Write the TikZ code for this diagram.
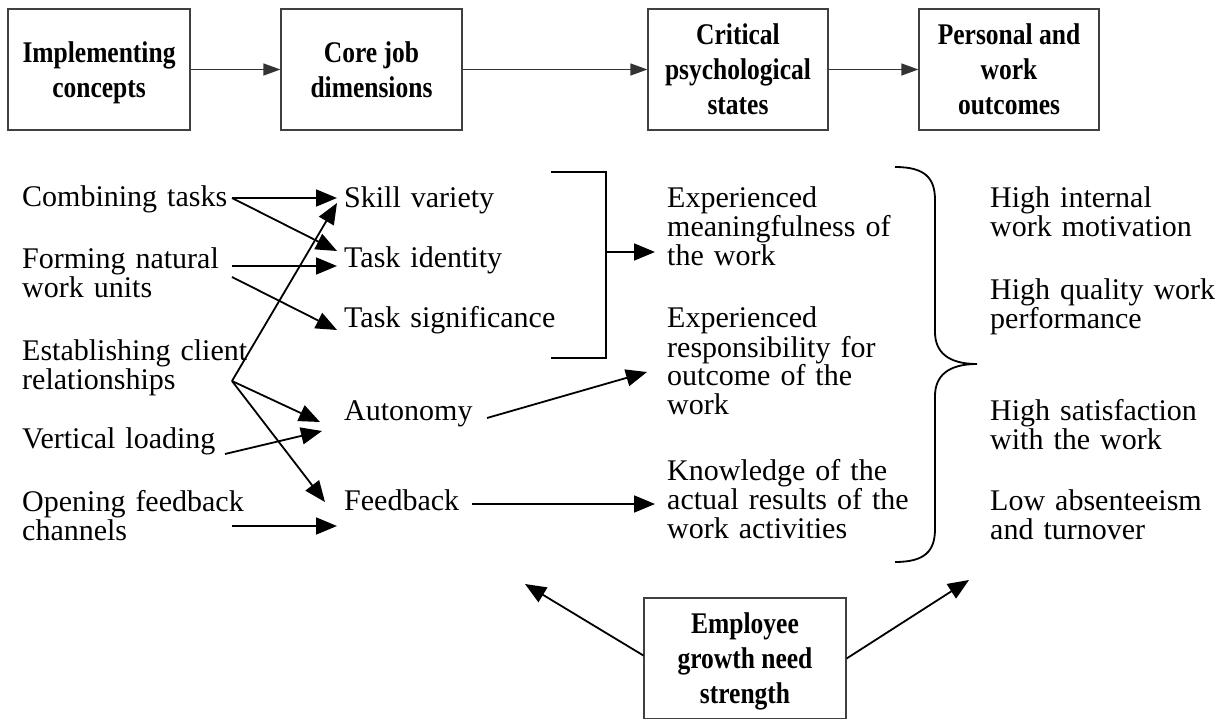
\documentclass[tikz,border=0pt]{standalone}
\usepackage{fontspec}
\setmainfont{Liberation Serif}
\newfontfamily\boxfont[FakeStretch=0.85]{Liberation Serif Bold}
\usetikzlibrary{arrows.meta}
\begin{document}
\begin{tikzpicture}[x=1pt,y=-1pt,
  stage/.style={draw=black!75, line width=1.2pt, minimum width=#1,
    minimum height=121pt, inner sep=0pt, align=center, text depth=0pt,
    font=\boxfont\fontsize{30}{35}\selectfont},
  lbl/.style={anchor=base west, inner sep=0pt, text width=250pt,
    align=left, font=\fontsize{30}{29}\selectfont},
  link/.style={-{Triangle[length=21pt,width=17pt]}, line width=1.8pt},
  flow/.style={draw=black!80, -{Triangle[length=17pt,width=12pt]}, line width=1.3pt},
  frame/.style={line width=1.8pt}]
\useasboundingbox (0,0) rectangle (1221,719);

% stage boxes along the top
\node[stage=182pt] (impl) at (99,69.5)   {Implementing\\concepts};
\node[stage=181pt] (core) at (371.5,69.5) {Core job\\dimensions};
\node[stage=180pt] (crit) at (738,69.5)  {Critical\\psychological\\states};
\node[stage=180pt] (outc) at (1009,69.5) {Personal and\\work\\outcomes};
\draw[flow] (impl) -- (core);
\draw[flow] (core) -- (crit);
\draw[flow] (crit) -- (outc);

% implementing concepts
\node[lbl] (comb)  at (22,207) {Combining tasks};
\node[lbl] (form)  at (22,269) {Forming natural\\work units};
\node[lbl] (estab) at (22,360) {Establishing client\\relationships};
\node[lbl] (vert)  at (22,448) {Vertical loading};
\node[lbl] (open)  at (22,511) {Opening feedback\\channels};

% core job dimensions
\node[lbl] (skill) at (344,208) {Skill variety};
\node[lbl] (tid)   at (344,268) {Task identity};
\node[lbl] (tsig)  at (344,328) {Task significance};
\node[lbl] (auto)  at (344,420) {Autonomy};
\node[lbl] (feed)  at (344,510) {Feedback};

% critical psychological states
\node[lbl] (mean) at (667,208) {Experienced\\meaningfulness of\\the work};
\node[lbl] (resp) at (667,328) {Experienced\\responsibility for\\outcome of the\\work};
\node[lbl] (know) at (667,480) {Knowledge of the\\actual results of the\\work activities};

% personal and work outcomes
\node[lbl] (mot)  at (990,208) {High internal\\work motivation};
\node[lbl] (qual) at (990,300) {High quality work\\performance};
\node[lbl] (sat)  at (990,420) {High satisfaction\\with the work};
\node[lbl] (abs)  at (990,510) {Low absenteeism\\and turnover};

% concepts -> dimensions
\draw[link] ([shift={(210,-9)}]comb.base west) -- ([shift={(-7,-10)}]skill.base west);
\draw[link] ([shift={(210,-9)}]comb.base west) -- ([shift={(-7,-17)}]tid.base west);
\draw[link] ([shift={(210,-3)}]form.base west) -- ([shift={(-7,-2)}]tid.base west);
\draw[link] ([shift={(210,8)}]form.base west) -- ([shift={(-7,2)}]tsig.base west);
\draw[link] ([shift={(210,21)}]estab.base west) -- ([shift={(-7,-5)}]skill.base west);
\draw[link] ([shift={(210,21)}]estab.base west) -- ([shift={(-24,2)}]auto.base west);
\draw[link] ([shift={(210,21)}]estab.base west) -- ([shift={(-19,-8)}]feed.base west);
\draw[link] ([shift={(203,6)}]vert.base west) -- ([shift={(-22,11)}]auto.base west);
\draw[link] ([shift={(210,15)}]open.base west) -- ([shift={(-7,16)}]feed.base west);

% dimensions -> states
\coordinate (brk) at (606,252);
\draw[frame] (551,172) -| (606,358) -- (551,358);
\draw[link] (brk) -- ([shift={(-12,44)}]mean.base west);
\draw[link] ([shift={(143,-2)}]auto.base west) -- ([shift={(-20,44)}]resp.base west);
\draw[link] ([shift={(128,-6)}]feed.base west) -- ([shift={(-12,24)}]know.base west);

% brace gathering the states
\draw[frame] (895,167) .. controls (925,167) and (935,178) .. (935,200)
  -- (935,332) .. controls (935,352) and (948,364) .. (977,364)
  .. controls (948,364) and (935,376) .. (935,396)
  -- (935,529) .. controls (935,551) and (925,562) .. (895,562);

% moderator
\node[stage=202pt] (gns) at (745,658.5) {Employee\\growth need\\strength};
\draw[draw=black!75, line width=1.2pt] (gns.south west) -- (gns.north west)
  -- (gns.north east) -- (gns.south east);
\coordinate (gl) at (525,584);
\coordinate (gr) at (969,580);
\draw[link] ([yshift=3]gns.west) -- (gl);
\draw[link] (gns.east) -- (gr);
\end{tikzpicture}
\end{document}
